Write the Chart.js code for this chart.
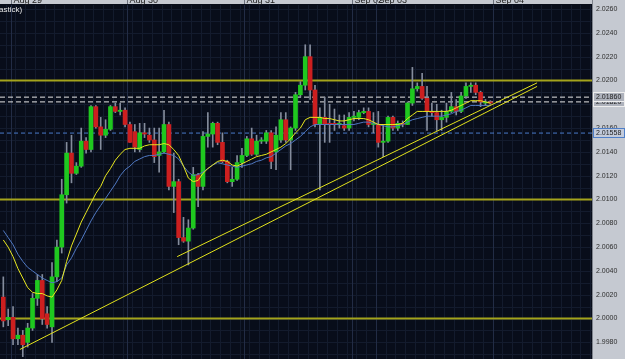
<!DOCTYPE html>
<html>
<head>
<meta charset="utf-8">
<script src="https://cdn.jsdelivr.net/npm/chart.js@4.4.0/dist/chart.umd.min.js"></script>
<style>
  html, body { margin: 0; padding: 0; background: #080d1a; }
</style>
</head>
<body>
<canvas id="myChart" width="625" height="359"></canvas>
<script>
// hourly candles, index 0 = first bar on the left
const opens = [2.0018,1.9999,2.0001,1.9983,1.9986,1.9980,1.9992,2.0017,2.0032,2.0004,
  1.9993,2.0035,2.0060,2.0104,2.0139,2.0122,2.0128,2.0149,2.0142,2.0178,
  2.0161,2.0154,2.0159,2.0178,2.0174,2.0175,2.0163,2.0157,2.0142,2.0156,
  2.0154,2.0150,2.0137,2.0140,2.0163,2.0111,2.0115,2.0068,2.0065,2.0076,
  2.0121,2.0111,2.0153,2.0155,2.0164,2.0148,2.0132,2.0115,2.0117,2.0131,
  2.0137,2.0151,2.0138,2.0149,2.0149,2.0156,2.0140,2.0150,2.0167,2.0150,
  2.0160,2.0188,2.0196,2.0220,2.0192,2.0163,2.0169,2.0164,2.0164,2.0163,
  2.0162,2.0160,2.0169,2.0169,2.0173,2.0174,2.0163,2.0163,2.0148,2.0149,
  2.0169,2.0160,2.0164,2.0163,2.0181,2.0193,2.0195,2.0185,2.0174,2.0173,
  2.0167,2.0169,2.0174,2.0178,2.0174,2.0187,2.0195,2.0196,2.0190,2.0181,
  2.0182];
const highs = [2.0035,2.0008,2.0010,1.9992,1.9990,1.9996,2.0021,2.0037,2.0037,2.0010,
  2.0047,2.0066,2.0117,2.0148,2.0154,2.0131,2.0160,2.0152,2.0179,2.0179,
  2.0169,2.0167,2.0179,2.0181,2.0181,2.0177,2.0165,2.0163,2.0164,2.0164,
  2.0160,2.0160,2.0160,2.0175,2.0165,2.0139,2.0117,2.0085,2.0083,2.0127,
  2.0122,2.0157,2.0173,2.0165,2.0165,2.0156,2.0133,2.0127,2.0137,2.0143,
  2.0153,2.0160,2.0154,2.0152,2.0158,2.0158,2.0161,2.0173,2.0173,2.0161,
  2.0190,2.0199,2.0230,2.0230,2.0196,2.0177,2.0186,2.0180,2.0176,2.0171,
  2.0171,2.0173,2.0174,2.0175,2.0177,2.0177,2.0173,2.0174,2.0163,2.0170,
  2.0170,2.0166,2.0166,2.0182,2.0211,2.0198,2.0206,2.0195,2.0181,2.0180,
  2.0175,2.0181,2.0190,2.0184,2.0190,2.0198,2.0198,2.0198,2.0191,2.0184,
  2.0183];
const lows = [1.9993,1.9994,1.9978,1.9978,1.9968,1.9976,1.9990,2.0011,1.9995,1.9992,
  1.9980,2.0031,2.0055,2.0097,2.0114,2.0121,2.0127,2.0139,2.0140,2.0160,
  2.0142,2.0152,2.0158,2.0173,2.0171,2.0161,2.0148,2.0140,2.0140,2.0152,
  2.0148,2.0131,2.0123,2.0139,2.0108,2.0089,2.0062,2.0064,2.0045,2.0075,
  2.0094,2.0108,2.0144,2.0144,2.0146,2.0131,2.0114,2.0111,2.0116,2.0127,
  2.0136,2.0137,2.0137,2.0147,2.0147,2.0126,2.0125,2.0148,2.0148,2.0125,
  2.0158,2.0186,2.0192,2.0184,2.0161,2.0108,2.0148,2.0148,2.0158,2.0160,
  2.0158,2.0158,2.0166,2.0167,2.0172,2.0161,2.0156,2.0144,2.0136,2.0148,
  2.0158,2.0158,2.0161,2.0163,2.0179,2.0191,2.0184,2.0158,2.0170,2.0158,
  2.0158,2.0165,2.0173,2.0171,2.0173,2.0185,2.0190,2.0188,2.0178,2.0179,
  2.0180];
const closes = [1.9998,2.0001,1.9983,1.9986,1.9978,1.9992,2.0017,2.0032,2.0000,1.9995,
  2.0035,2.0060,2.0104,2.0139,2.0122,2.0128,2.0149,2.0142,2.0178,2.0161,
  2.0154,2.0159,2.0178,2.0174,2.0175,2.0163,2.0148,2.0144,2.0156,2.0155,
  2.0150,2.0136,2.0140,2.0163,2.0111,2.0115,2.0068,2.0065,2.0076,2.0121,
  2.0111,2.0153,2.0155,2.0164,2.0148,2.0132,2.0115,2.0117,2.0131,2.0137,
  2.0151,2.0138,2.0149,2.0150,2.0156,2.0132,2.0154,2.0167,2.0150,2.0160,
  2.0188,2.0196,2.0220,2.0192,2.0163,2.0169,2.0163,2.0163,2.0163,2.0164,
  2.0160,2.0169,2.0170,2.0173,2.0174,2.0163,2.0164,2.0148,2.0149,2.0169,
  2.0160,2.0164,2.0163,2.0181,2.0193,2.0195,2.0185,2.0174,2.0173,2.0167,
  2.0169,2.0174,2.0178,2.0174,2.0187,2.0195,2.0196,2.0190,2.0182,2.0182,
  2.0181];

// moving averages (yellow fast, blue slow)
const maFast = [2.0066,2.0060,2.0052,2.0042,2.0034,2.0026,2.0022,2.0021,2.0021,2.0019,
  2.0018,2.0024,2.0032,2.0048,2.0061,2.0071,2.0081,2.0089,2.0097,2.0105,
  2.0111,2.0120,2.0126,2.0133,2.0138,2.0142,2.0143,2.0143,2.0143,2.0145,
  2.0146,2.0146,2.0146,2.0147,2.0146,2.0142,2.0137,2.0128,2.0118,2.0115,
  2.0116,2.0122,2.0126,2.0129,2.0132,2.0133,2.0132,2.0129,2.0128,2.0130,
  2.0132,2.0134,2.0136,2.0137,2.0138,2.0140,2.0142,2.0144,2.0147,2.0151,
  2.0156,2.0160,2.0167,2.0169,2.0169,2.0169,2.0168,2.0168,2.0167,2.0166,
  2.0166,2.0167,2.0168,2.0168,2.0168,2.0167,2.0165,2.0163,2.0163,2.0163,
  2.0163,2.0163,2.0164,2.0168,2.0171,2.0174,2.0174,2.0174,2.0174,2.0174,
  2.0174,2.0174,2.0175,2.0177,2.0179,2.0181,2.0183,2.0183,2.0183,2.0182,
  2.0181];
const maSlow = [2.0074,2.0068,2.0062,2.0054,2.0048,2.0043,2.0040,2.0037,2.0034,2.0032,
  2.0030,2.0031,2.0034,2.0045,2.0051,2.0059,2.0066,2.0074,2.0082,2.0089,
  2.0095,2.0101,2.0107,2.0113,2.0120,2.0125,2.0128,2.0132,2.0134,2.0136,
  2.0137,2.0137,2.0138,2.0139,2.0138,2.0137,2.0134,2.0128,2.0123,2.0120,
  2.0121,2.0123,2.0126,2.0129,2.0131,2.0130,2.0129,2.0128,2.0127,2.0128,
  2.0129,2.0130,2.0132,2.0133,2.0135,2.0136,2.0139,2.0142,2.0145,2.0147,
  2.0150,2.0153,2.0157,2.0161,2.0163,2.0163,2.0163,2.0163,2.0163,2.0163,
  2.0163,2.0163,2.0163,2.0164,2.0165,2.0165,2.0164,2.0163,2.0162,2.0161,
  2.0161,2.0162,2.0163,2.0165,2.0167,2.0168,2.0169,2.0170,2.0170,2.0170,
  2.0170,2.0171,2.0172,2.0174,2.0175,2.0177,2.0179,2.0179,2.0179,2.0179,
  2.0179];

// drawn objects: [bar index, price]
const trendA = [[3.4, 1.9974], [109.6, 2.0195]];
const trendB = [[35.7, 2.0052], [109.6, 2.0198]];
const levels = [2.0200, 2.0100, 2.0000];
const whiteLevels = [2.0186, 2.0182];
const blueLevels = [2.01558];
const priceTags = ["2.01820", "2.01860", "2.01558"];

const yTicks = [1.998, 2.000, 2.002, 2.004, 2.006, 2.008, 2.010, 2.012, 2.014, 2.016, 2.018, 2.020, 2.022, 2.024, 2.026];
const dayLabels = ["Aug 29", "Aug 30", "Aug 31", "Sep 02", "Sep 03", "Sep 04"];
const dayStarts = [1.5, 25.5, 49.5, 71.5, 76.5, 100.5];

const xMin = -0.68, xMax = 120.88;

let bodyColors = opens.map((o, i) => closes[i] > o ? "#1fc81f" : (closes[i] < o ? "#cc1f1f" : "#9aa2b0"));

function hLine(v, color, width, dash) {
  return {
    type: "line",
    data: [{ x: xMin, y: v }, { x: xMax, y: v }],
    borderColor: color,
    borderWidth: width,
    borderDash: dash,
    pointRadius: 0,
    order: 5
  };
}

function tLine(pts) {
  return {
    type: "line",
    data: pts.map(p => ({ x: p[0], y: p[1] })),
    borderColor: "#e2e21c",
    borderWidth: 1,
    pointRadius: 0,
    order: 0
  };
}

const decor = {
  id: "decor",
  beforeDraw(chart) {
    const { ctx, chartArea: a, scales } = chart;
    const x = scales.x, y = scales.y;
    ctx.save();
    ctx.fillStyle = "#080d1a";
    ctx.fillRect(0, 0, chart.width, chart.height);
    // grid
    ctx.lineWidth = 1;
    ctx.strokeStyle = "#131b2d";
    for (let v = 1.997; v <= 2.0265; v += 0.001) {
      let py = Math.round(y.getPixelForValue(v)) + 0.5;
      ctx.beginPath(); ctx.moveTo(a.left, py); ctx.lineTo(a.right, py); ctx.stroke();
    }
    for (let i = 0; i < xMax; i += 2) {
      let px = Math.round(x.getPixelForValue(i + 0.5)) + 0.5;
      ctx.beginPath(); ctx.moveTo(px, a.top); ctx.lineTo(px, a.bottom); ctx.stroke();
    }
    ctx.strokeStyle = "#222c45";
    dayStarts.forEach(d => {
      let px = Math.round(x.getPixelForValue(d)) + 0.5;
      ctx.beginPath(); ctx.moveTo(px, a.top); ctx.lineTo(px, a.bottom); ctx.stroke();
    });
    // price axis panel and date strip
    ctx.fillStyle = "#c5c9d1";
    ctx.fillRect(a.right, 0, chart.width - a.right, chart.height);
    ctx.fillRect(0, 0, chart.width, a.top - 1);
    ctx.strokeStyle = "#7d828c";
    ctx.beginPath(); ctx.moveTo(a.right + 0.5, 0); ctx.lineTo(a.right + 0.5, chart.height); ctx.stroke();
    ctx.restore();
  },
  afterDraw(chart) {
    const { ctx, chartArea: a, scales } = chart;
    const x = scales.x, y = scales.y;
    ctx.save();
    // date labels, mostly hidden above the window
    ctx.font = "9px 'Liberation Sans', Arial";
    ctx.fillStyle = "#222";
    ctx.textBaseline = "alphabetic";
    ctx.strokeStyle = "#6c717c";
    dayStarts.forEach((d, k) => {
      let px = Math.round(x.getPixelForValue(d)) + 0.5;
      ctx.beginPath(); ctx.moveTo(px, 0); ctx.lineTo(px, a.top - 1); ctx.stroke();
      ctx.fillText(dayLabels[k], px + 2, 3);
    });
    ctx.fillStyle = "#e8e8e8";
    ctx.font = "8px 'Liberation Sans', Arial";
    ctx.fillText("astick)", -1, 12);
    // price tags
    ctx.font = "7px 'Liberation Sans', Arial";
    ctx.textBaseline = "middle";
    priceTags.forEach(t => {
      let py = Math.round(y.getPixelForValue(parseFloat(t)));
      let blue = t === "2.01558";
      ctx.fillStyle = blue ? "#c3cbdb" : "#aeb2bc";
      ctx.fillRect(a.right + 1, py - 5, chart.width - a.right - 1, 10);
      ctx.strokeStyle = blue ? "#4f7fc8" : "#eeeeee";
      ctx.strokeRect(a.right + 1.5, py - 4.5, chart.width - a.right - 2, 9);
      ctx.fillStyle = "#1c1c1c";
      ctx.fillText(t, a.right + 4, py + 0.5);
    });
    ctx.restore();
  }
};

const ctx = document.getElementById("myChart").getContext("2d");

new Chart(ctx, {
  type: "bar",
  data: {
    datasets: [
      {
        data: highs.map((h, i) => ({ x: i, y: [lows[i], h] })),
        backgroundColor: "#848c9c",
        barThickness: 1,
        grouped: false,
        order: 4
      },
      {
        data: opens.map((o, i) => ({ x: i, y: [o, closes[i]] })),
        backgroundColor: bodyColors,
        barThickness: 4,
        minBarLength: 1,
        grouped: false,
        order: 3
      },
      {
        type: "line",
        data: maSlow.map((v, i) => ({ x: i, y: v })),
        borderColor: "#4f78c2",
        borderWidth: 1,
        pointRadius: 0,
        order: 2
      },
      {
        type: "line",
        data: maFast.map((v, i) => ({ x: i, y: v })),
        borderColor: "#e8e81e",
        borderWidth: 1,
        pointRadius: 0,
        order: 1
      },
      ...levels.map(v => hLine(v, "#a4a41c", 2, [])),
      ...whiteLevels.map(v => hLine(v, "#e6e6e6", 1, [5, 3])),
      ...blueLevels.map(v => hLine(v, "#4a7acb", 1, [4, 3])),
      tLine(trendA),
      tLine(trendB)
    ]
  },
  options: {
    responsive: false,
    devicePixelRatio: 1,
    animation: false,
    layout: { padding: { top: 5, left: 0, right: 0, bottom: 0 } },
    plugins: { legend: { display: false }, tooltip: { enabled: false } },
    scales: {
      x: {
        type: "linear",
        display: false,
        offset: false,
        min: xMin,
        max: xMax
      },
      y: {
        position: "right",
        min: 1.9966,
        max: 2.02634,
        afterBuildTicks: s => { s.ticks = yTicks.map(v => ({ value: v })); },
        afterFit: s => { s.width = 33; s.paddingTop = 0; s.paddingBottom = 0; },
        border: { display: false },
        grid: { display: false, drawTicks: false },
        ticks: {
          padding: 4,
          color: "#2e2e2e",
          font: { size: 7, family: "'Liberation Sans', Arial" },
          callback: v => v.toFixed(4)
        }
      }
    }
  },
  plugins: [decor]
});
</script>
</body>
</html>
